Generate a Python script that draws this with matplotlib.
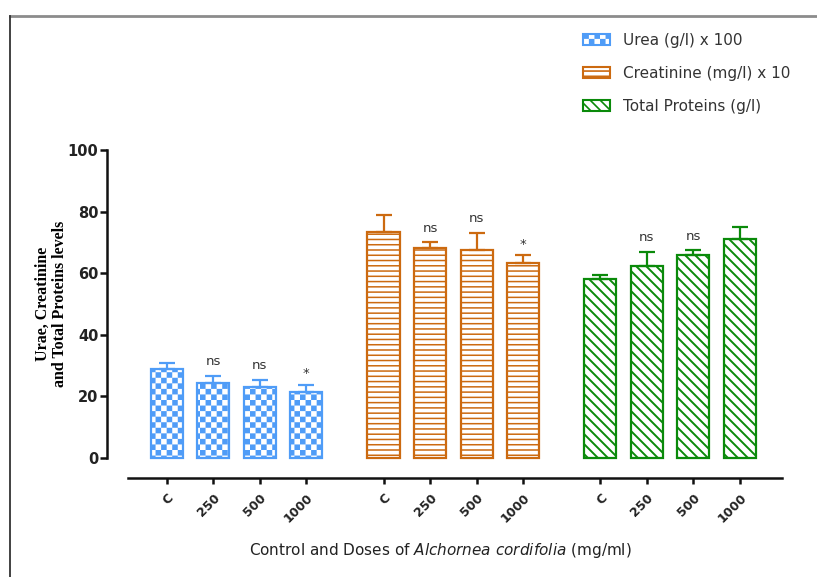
import warnings
import numpy as np
import matplotlib
matplotlib.use("Agg")
import matplotlib.pyplot as plt
from matplotlib import hatch as mhatch
from matplotlib.path import Path
from matplotlib.patches import Patch
from matplotlib.lines import Line2D

warnings.filterwarnings("ignore")

# ---------------- data ----------------
doses = ["C", "250", "500", "1000"]
series_names = ["Urea (g/l) x 100", "Creatinine (mg/l) x 10", "Total Proteins (g/l)"]
urea = [28.9, 24.2, 23.0, 21.5]
urea_err = [1.8, 2.5, 2.4, 2.3]
creatinine = [73.3, 68.1, 67.5, 63.4]
creatinine_err = [5.6, 1.9, 5.6, 2.4]
proteins = [58.0, 62.3, 65.9, 71.0]
proteins_err = [1.4, 4.7, 1.6, 4.1]
urea_sig = ["", "ns", "ns", "*"]
creatinine_sig = ["", "ns", "ns", "*"]
proteins_sig = ["", "ns", "ns", ""]
y_ticks = [0, 20, 40, 60, 80, 100]

# ---------------- custom hatches ----------------
HLW = 1.2  # hatch linewidth (pt)
SHRINK = (HLW * 100 / 72) / 2 / 100.0


class CheckerHatch(mhatch.HatchPatternBase):
    def __init__(self, hatch, density):
        k = hatch.count('c')
        self.n = 18 * k
        self.cells = [(i, j) for i in range(self.n) for j in range(self.n)
                      if (i + j) % 2 == 0]
        self.num_vertices = 5 * len(self.cells)

    def set_vertices_and_codes(self, vertices, codes):
        s = 1.0 / self.n
        m = SHRINK
        for k, (i, j) in enumerate(self.cells):
            x0, y0 = i * s + m, j * s + m
            x1, y1 = (i + 1) * s - m, (j + 1) * s - m
            vertices[5 * k:5 * k + 5] = [(x0, y0), (x1, y0), (x1, y1), (x0, y1), (x0, y0)]
            codes[5 * k:5 * k + 5] = [Path.MOVETO, Path.LINETO, Path.LINETO,
                                      Path.LINETO, Path.CLOSEPOLY]


class HLineHatch(mhatch.HatchPatternBase):
    def __init__(self, hatch, density):
        self.n = 19 * hatch.count('h')
        self.num_vertices = 2 * self.n

    def set_vertices_and_codes(self, vertices, codes):
        ys = (np.arange(self.n) + 0.5) / self.n
        vertices[0::2, 0] = 0.0
        vertices[0::2, 1] = ys
        vertices[1::2, 0] = 1.0
        vertices[1::2, 1] = ys
        codes[0::2] = Path.MOVETO
        codes[1::2] = Path.LINETO


class DiagHatch(mhatch.HatchPatternBase):
    def __init__(self, hatch, density):
        self.n = 20 * hatch.count('d')
        self.num_vertices = (self.n + 1) * 2 if self.n else 0

    def set_vertices_and_codes(self, vertices, codes):
        steps = np.linspace(-0.5, 0.5, self.n + 1)
        vertices[0::2, 0] = 0.0 + steps
        vertices[0::2, 1] = 1.0 + steps
        vertices[1::2, 0] = 1.0 + steps
        vertices[1::2, 1] = 0.0 + steps
        codes[0::2] = Path.MOVETO
        codes[1::2] = Path.LINETO


mhatch._hatch_types.extend([CheckerHatch, HLineHatch, DiagHatch])

# ---------------- style ----------------
plt.rcParams['font.family'] = ['DejaVu Sans']
plt.rcParams['hatch.linewidth'] = HLW
plt.rcParams['mathtext.fontset'] = 'dejavusans'

colors = ['#4f9cf7', '#cc6a10', '#0a8a0a']
hatches = ['c', 'h', 'd']

W, H = 817, 577
fig = plt.figure(figsize=(W / 100, H / 100), dpi=100)
ax_l, ax_r, ax_t, ax_b = 127.7, 781.7, 150.0, 458.0
ax = fig.add_axes([ax_l / W, 1 - ax_b / H, (ax_r - ax_l) / W, (ax_b - ax_t) / H])

values = [urea, creatinine, proteins]
errors = [urea_err, creatinine_err, proteins_err]
sigs = [urea_sig, creatinine_sig, proteins_sig]

group_step = 4.66
bar_w = 0.69
all_pos = []
for g, (vals, errs, sg) in enumerate(zip(values, errors, sigs)):
    pos = np.arange(len(doses)) + g * group_step
    all_pos.extend(pos)
    bars = ax.bar(pos, vals, width=bar_w, facecolor='white', edgecolor=colors[g],
                  linewidth=1.6, hatch=hatches[g], clip_on=False, zorder=2)
    for b in bars:
        if hasattr(b, 'set_hatch_linewidth'):
            b.set_hatch_linewidth([HLW, 1.1, 1.4][g])
    ax.errorbar(pos, vals, yerr=[np.zeros(len(vals)), errs], fmt='none',
                ecolor=colors[g], elinewidth=1.6, capsize=5.5, capthick=1.6,
                clip_on=False, zorder=3)
    for p, v, e, s in zip(pos, vals, errs, sg):
        if s:
            ax.annotate(s, (p, v + e), xytext=(0, 10 if s == 'ns' else 8),
                        textcoords='offset points', ha='center', va='center',
                        fontsize=9.5, color='#333333')

ax.set_xlim(-0.84, 13.22)
ax.set_ylim(0, 100)

for sp in ['top', 'right']:
    ax.spines[sp].set_visible(False)
ax.spines['left'].set_position(('outward', 15.1))
ax.spines['left'].set_bounds(0, 100)
ax.spines['bottom'].set_position(('outward', 14.4))
for sp in ['left', 'bottom']:
    ax.spines[sp].set_linewidth(1.8)
    ax.spines[sp].set_color('#111111')
ax.tick_params(axis='y', length=5, width=1.8, pad=1.0, color='#111111')
ax.tick_params(axis='x', length=4, width=1.8, pad=5.5, color='#111111')
ax.patch.set_visible(False)

ax.set_yticks(y_ticks)
ax.set_yticklabels([str(t) for t in y_ticks])
ax.set_xticks(all_pos)
ax.set_xticklabels(doses * 3)
for lab in ax.get_yticklabels():
    lab.set_fontsize(10.5)
    lab.set_fontweight('bold')
    lab.set_color('#222222')
for lab in ax.get_xticklabels():
    lab.set_fontsize(9)
    lab.set_fontweight('bold')
    lab.set_color('#222222')
    lab.set_rotation(45)
    lab.set_rotation_mode('anchor')
    lab.set_ha('right')
    lab.set_va('top')

# y label
fig.text(51 / W, 1 - 304 / H, "Urae, Creatinine\nand Total Proteins levels",
         rotation=90, ha='center', va='center', fontsize=11.5,
         family='Liberation Serif', fontweight='bold', linespacing=1.1)

# x label
fig.text(440 / W, 1 - 551 / H,
         r"Control and Doses of $\it{Alchornea\ cordifolia}$ (mg/ml)",
         ha='center', va='center', fontsize=11, color='#222222')

# legend
handles = [Patch(facecolor='white', edgecolor=c, hatch=h, linewidth=1.5)
           for c, h in zip(colors, hatches)]
fig.legend(handles, series_names, loc='upper left',
           bbox_to_anchor=(583 / W, 1 - 33 / H), frameon=False,
           fontsize=11, labelspacing=1.18, handlelength=1.75, handleheight=0.75,
           handletextpad=0.85, borderpad=0, borderaxespad=0, labelcolor='#333333')

# outer frame
fig.add_artist(Line2D([10 / W, 1], [1 - 16 / H] * 2, transform=fig.transFigure,
                      color='#8c8c8c', lw=2))
fig.add_artist(Line2D([10 / W] * 2, [0, 1 - 16 / H], transform=fig.transFigure,
                      color='#333333', lw=1.3))

fig.savefig("out.png", dpi=100)
